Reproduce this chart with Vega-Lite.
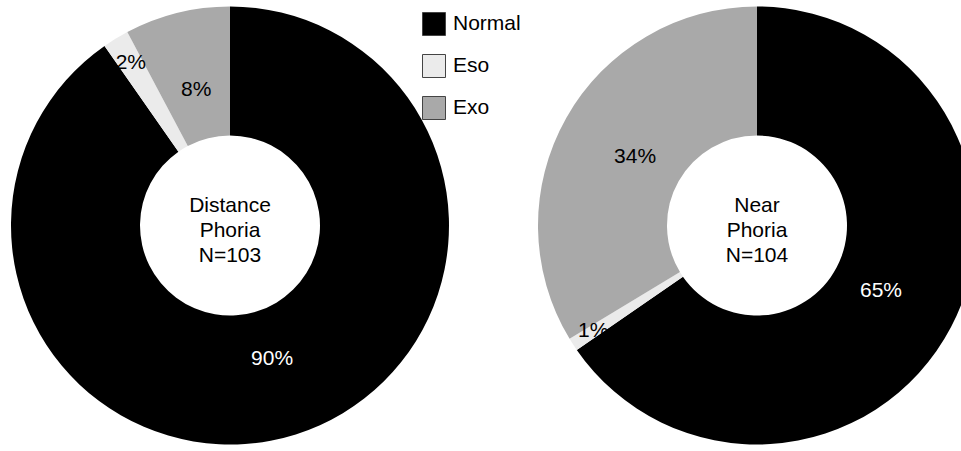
{
  "$schema": "https://vega.github.io/schema/vega-lite/v6.json",
  "width": 961,
  "height": 451,
  "padding": 0,
  "autosize": {"type": "none"},
  "background": "white",
  "config": {"view": {"stroke": null}, "font": "Liberation Sans"},
  "datasets": {
    "slices": [
      {"chart": "Distance", "category": "Normal", "count": 93, "label": "90%", "ord": 1},
      {"chart": "Distance", "category": "Eso", "count": 2, "label": "2%", "ord": 2},
      {"chart": "Distance", "category": "Exo", "count": 8, "label": "8%", "ord": 3},
      {"chart": "Near", "category": "Normal", "count": 68, "label": "65%", "ord": 1},
      {"chart": "Near", "category": "Eso", "count": 1, "label": "1%", "ord": 2},
      {"chart": "Near", "category": "Exo", "count": 35, "label": "34%", "ord": 3}
    ],
    "centers": [
      {"chart": "Distance", "text": "Distance\nPhoria\nN=103"},
      {"chart": "Near", "text": "Near\nPhoria\nN=104"}
    ]
  },
  "encoding": {
    "x": {"field": "chart", "type": "nominal", "scale": {"type": "point", "domain": ["Distance", "Near"], "range": [230, 757], "padding": 0}, "axis": null}
  },
  "layer": [
    {
      "data": {"name": "slices"},
      "transform": [{"filter": "datum.chart === 'Distance'"}],
      "layer": [
        {
          "mark": {"type": "arc", "innerRadius": 90, "outerRadius": 219},
          "encoding": {
            "theta": {"field": "count", "type": "quantitative", "stack": true},
            "order": {"field": "ord", "type": "quantitative"},
            "color": {
              "field": "category",
              "type": "nominal",
              "scale": {"domain": ["Normal", "Eso", "Exo"], "range": ["#000000", "#ebebeb", "#a9a9a9"]},
              "legend": {
                "title": null,
                "orient": "none",
                "legendX": 422,
                "legendY": 12,
                "padding": 0,
                "symbolType": "square",
                "symbolSize": 529,
                "symbolStrokeColor": "#444444",
                "symbolStrokeWidth": 1,
                "labelFont": "Liberation Sans",
                "labelFontSize": 21,
                "labelColor": "#000000",
                "labelOffset": 7,
                "rowPadding": 14,
                "labelLimit": 200
              }
            }
          }
        },
        {
          "mark": {"type": "text", "radius": 140, "fontSize": 21},
          "encoding": {
            "theta": {"field": "count", "type": "quantitative", "stack": true},
            "order": {"field": "ord", "type": "quantitative"},
            "detail": {"field": "category", "type": "nominal"},
            "text": {"condition": {"test": "datum.category !== 'Eso'", "field": "label"}, "value": ""},
            "color": {"condition": {"test": "datum.category === 'Normal'", "value": "#ffffff"}, "value": "#000000"}
          }
        },
        {
          "mark": {"type": "text", "radius": 190, "fontSize": 21},
          "encoding": {
            "theta": {"field": "count", "type": "quantitative", "stack": true},
            "order": {"field": "ord", "type": "quantitative"},
            "detail": {"field": "category", "type": "nominal"},
            "text": {"condition": {"test": "datum.category === 'Eso'", "field": "label"}, "value": ""},
            "color": {"value": "#000000"}
          }
        }
      ]
    },
    {
      "data": {"name": "slices"},
      "transform": [{"filter": "datum.chart === 'Near'"}],
      "layer": [
        {
          "mark": {"type": "arc", "innerRadius": 90, "outerRadius": 219},
          "encoding": {
            "theta": {"field": "count", "type": "quantitative", "stack": true},
            "order": {"field": "ord", "type": "quantitative"},
            "color": {
              "field": "category",
              "type": "nominal",
              "scale": {"domain": ["Normal", "Eso", "Exo"], "range": ["#000000", "#ebebeb", "#a9a9a9"]},
              "legend": {
                "title": null,
                "orient": "none",
                "legendX": 422,
                "legendY": 12,
                "padding": 0,
                "symbolType": "square",
                "symbolSize": 529,
                "symbolStrokeColor": "#444444",
                "symbolStrokeWidth": 1,
                "labelFont": "Liberation Sans",
                "labelFontSize": 21,
                "labelColor": "#000000",
                "labelOffset": 7,
                "rowPadding": 14,
                "labelLimit": 200
              }
            }
          }
        },
        {
          "mark": {"type": "text", "radius": 140, "fontSize": 21},
          "encoding": {
            "theta": {"field": "count", "type": "quantitative", "stack": true},
            "order": {"field": "ord", "type": "quantitative"},
            "detail": {"field": "category", "type": "nominal"},
            "text": {"condition": {"test": "datum.category !== 'Eso'", "field": "label"}, "value": ""},
            "color": {"condition": {"test": "datum.category === 'Normal'", "value": "#ffffff"}, "value": "#000000"}
          }
        },
        {
          "mark": {"type": "text", "radius": 195, "fontSize": 21},
          "encoding": {
            "theta": {"field": "count", "type": "quantitative", "stack": true},
            "order": {"field": "ord", "type": "quantitative"},
            "detail": {"field": "category", "type": "nominal"},
            "text": {"condition": {"test": "datum.category === 'Eso'", "field": "label"}, "value": ""},
            "color": {"value": "#000000"}
          }
        }
      ]
    },
    {
      "data": {"name": "centers"},
      "mark": {"type": "text", "fontSize": 21, "lineBreak": "\n", "lineHeight": 25, "dy": -20, "color": "#000000"},
      "encoding": {
        "text": {"field": "text"}
      }
    }
  ],
  "resolve": {"scale": {"theta": "independent"}}
}
